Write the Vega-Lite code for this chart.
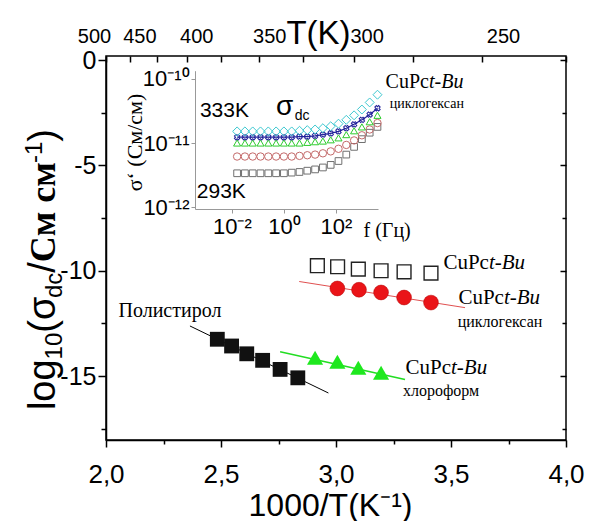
{
  "$schema": "https://vega.github.io/schema/vega-lite/v6.json",
  "width": 460,
  "height": 384,
  "autosize": {"type": "none"},
  "padding": {"left": 106, "top": 56, "right": 23, "bottom": 81},
  "background": "white",
  "config": {
    "view": {"stroke": "#000", "strokeWidth": 1.5},
    "axis": {"grid": false, "domainColor": "#000", "tickColor": "#000", "labelColor": "#000", "titleColor": "#000",
      "labelFont": "Liberation Sans", "titleFont": "Liberation Sans", "titleFontWeight": "normal",
      "domainWidth": 1.5, "tickWidth": 1.5, "labelFlush": false, "labelOverlap": false}
  },
  "datasets": {
    "open": [{"x": 2.919, "y": -9.76}, {"x": 3.007, "y": -9.81}, {"x": 3.097, "y": -9.92}, {"x": 3.196, "y": -10.0}, {"x": 3.296, "y": -10.05}, {"x": 3.413, "y": -10.11}],
    "red": [{"x": 3.006, "y": -10.84}, {"x": 3.1, "y": -10.9}, {"x": 3.196, "y": -11.03}, {"x": 3.296, "y": -11.27}, {"x": 3.413, "y": -11.51}],
    "poly": [{"x": 2.484, "y": -13.25}, {"x": 2.546, "y": -13.57}, {"x": 2.612, "y": -13.94}, {"x": 2.681, "y": -14.25}, {"x": 2.757, "y": -14.68}, {"x": 2.834, "y": -15.08}],
    "green": [{"x": 2.909, "y": -14.13}, {"x": 3.006, "y": -14.32}, {"x": 3.097, "y": -14.6}, {"x": 3.196, "y": -14.84}],
    "redFit": [{"x": 2.84, "y": -10.51}, {"x": 3.561, "y": -11.75}],
    "polyFit": [{"x": 2.365, "y": -12.62}, {"x": 2.967, "y": -15.8}],
    "greenFit": [{"x": 2.757, "y": -13.84}, {"x": 3.3, "y": -15.16}],
    "labels": [
      {"k": "cu", "t": "CuPc", "x": 3.665, "y": -9.9},
      {"k": "cu", "t": "CuPc", "x": 3.73, "y": -11.57},
      {"k": "cu", "t": "CuPc", "x": 3.5, "y": -14.9},
      {"k": "solv", "t": "циклогексан", "x": 3.713, "y": -12.67},
      {"k": "solv", "t": "хлороформ", "x": 3.457, "y": -15.95},
      {"k": "poly", "t": "Полистирол", "x": 2.278, "y": -12.2}
    ],
    "ytitle": [
      {"k": "big", "t": "log", "x": 1.7783, "y": -16.611},
      {"k": "sub", "t": "10", "x": 1.8087, "y": -14.205},
      {"k": "big", "t": "(σ", "x": 1.7783, "y": -12.938},
      {"k": "sub", "t": "dc", "x": 1.8087, "y": -11.296},
      {"k": "big", "t": "/", "x": 1.7783, "y": -10.095},
      {"k": "serif", "t": "См см", "x": 1.7783, "y": -9.592},
      {"k": "sub", "t": "-1", "x": 1.7217, "y": -4.888},
      {"k": "big", "t": ")", "x": 1.7783, "y": -3.878}
    ],
    "inset": [
      {"T": "293K", "lf": -1.8, "ls": -11.47}, {"T": "293K", "lf": -1.5, "ls": -11.47}, {"T": "293K", "lf": -1.2, "ls": -11.47}, {"T": "293K", "lf": -0.9, "ls": -11.47}, {"T": "293K", "lf": -0.6, "ls": -11.47}, {"T": "293K", "lf": -0.3, "ls": -11.47}, {"T": "293K", "lf": 0, "ls": -11.47}, {"T": "293K", "lf": 0.3, "ls": -11.46}, {"T": "293K", "lf": 0.6, "ls": -11.45}, {"T": "293K", "lf": 0.9, "ls": -11.43}, {"T": "293K", "lf": 1.2, "ls": -11.41}, {"T": "293K", "lf": 1.5, "ls": -11.38}, {"T": "293K", "lf": 1.8, "ls": -11.34}, {"T": "293K", "lf": 2.1, "ls": -11.28}, {"T": "293K", "lf": 2.4, "ls": -11.18}, {"T": "293K", "lf": 2.7, "ls": -11.06}, {"T": "293K", "lf": 3.0, "ls": -10.94}, {"T": "293K", "lf": 3.3, "ls": -10.84}, {"T": "293K", "lf": 3.6, "ls": -10.75},
      {"T": "303K", "lf": -1.8, "ls": -11.21}, {"T": "303K", "lf": -1.5, "ls": -11.21}, {"T": "303K", "lf": -1.2, "ls": -11.21}, {"T": "303K", "lf": -0.9, "ls": -11.21}, {"T": "303K", "lf": -0.6, "ls": -11.21}, {"T": "303K", "lf": -0.3, "ls": -11.21}, {"T": "303K", "lf": 0, "ls": -11.21}, {"T": "303K", "lf": 0.3, "ls": -11.21}, {"T": "303K", "lf": 0.6, "ls": -11.2}, {"T": "303K", "lf": 0.9, "ls": -11.19}, {"T": "303K", "lf": 1.2, "ls": -11.18}, {"T": "303K", "lf": 1.5, "ls": -11.16}, {"T": "303K", "lf": 1.8, "ls": -11.13}, {"T": "303K", "lf": 2.1, "ls": -11.09}, {"T": "303K", "lf": 2.4, "ls": -11.03}, {"T": "303K", "lf": 2.7, "ls": -10.96}, {"T": "303K", "lf": 3.0, "ls": -10.88}, {"T": "303K", "lf": 3.3, "ls": -10.79}, {"T": "303K", "lf": 3.6, "ls": -10.69},
      {"T": "313K", "lf": -1.8, "ls": -11.0}, {"T": "313K", "lf": -1.5, "ls": -11.0}, {"T": "313K", "lf": -1.2, "ls": -11.0}, {"T": "313K", "lf": -0.9, "ls": -11.0}, {"T": "313K", "lf": -0.6, "ls": -11.0}, {"T": "313K", "lf": -0.3, "ls": -11.0}, {"T": "313K", "lf": 0, "ls": -11.0}, {"T": "313K", "lf": 0.3, "ls": -11.0}, {"T": "313K", "lf": 0.6, "ls": -11.0}, {"T": "313K", "lf": 0.9, "ls": -10.99}, {"T": "313K", "lf": 1.2, "ls": -10.98}, {"T": "313K", "lf": 1.5, "ls": -10.97}, {"T": "313K", "lf": 1.8, "ls": -10.95}, {"T": "313K", "lf": 2.1, "ls": -10.92}, {"T": "313K", "lf": 2.4, "ls": -10.87}, {"T": "313K", "lf": 2.7, "ls": -10.81}, {"T": "313K", "lf": 3.0, "ls": -10.75}, {"T": "313K", "lf": 3.3, "ls": -10.67}, {"T": "313K", "lf": 3.6, "ls": -10.57},
      {"T": "323K", "lf": -1.8, "ls": -10.91}, {"T": "323K", "lf": -1.5, "ls": -10.91}, {"T": "323K", "lf": -1.2, "ls": -10.91}, {"T": "323K", "lf": -0.9, "ls": -10.91}, {"T": "323K", "lf": -0.6, "ls": -10.91}, {"T": "323K", "lf": -0.3, "ls": -10.91}, {"T": "323K", "lf": 0, "ls": -10.91}, {"T": "323K", "lf": 0.3, "ls": -10.91}, {"T": "323K", "lf": 0.6, "ls": -10.9}, {"T": "323K", "lf": 0.9, "ls": -10.9}, {"T": "323K", "lf": 1.2, "ls": -10.89}, {"T": "323K", "lf": 1.5, "ls": -10.87}, {"T": "323K", "lf": 1.8, "ls": -10.85}, {"T": "323K", "lf": 2.1, "ls": -10.82}, {"T": "323K", "lf": 2.4, "ls": -10.77}, {"T": "323K", "lf": 2.7, "ls": -10.71}, {"T": "323K", "lf": 3.0, "ls": -10.64}, {"T": "323K", "lf": 3.3, "ls": -10.56}, {"T": "323K", "lf": 3.6, "ls": -10.46},
      {"T": "333K", "lf": -1.8, "ls": -10.82}, {"T": "333K", "lf": -1.5, "ls": -10.82}, {"T": "333K", "lf": -1.2, "ls": -10.82}, {"T": "333K", "lf": -0.9, "ls": -10.82}, {"T": "333K", "lf": -0.6, "ls": -10.82}, {"T": "333K", "lf": -0.3, "ls": -10.82}, {"T": "333K", "lf": 0, "ls": -10.82}, {"T": "333K", "lf": 0.3, "ls": -10.82}, {"T": "333K", "lf": 0.6, "ls": -10.81}, {"T": "333K", "lf": 0.9, "ls": -10.8}, {"T": "333K", "lf": 1.2, "ls": -10.79}, {"T": "333K", "lf": 1.5, "ls": -10.77}, {"T": "333K", "lf": 1.8, "ls": -10.74}, {"T": "333K", "lf": 2.1, "ls": -10.7}, {"T": "333K", "lf": 2.4, "ls": -10.64}, {"T": "333K", "lf": 2.7, "ls": -10.57}, {"T": "333K", "lf": 3.0, "ls": -10.48}, {"T": "333K", "lf": 3.3, "ls": -10.37}, {"T": "333K", "lf": 3.6, "ls": -10.25}
    ],
    "insetText": [
      {"k": "big", "t": "333K", "lf": -3.23, "ls": -10.59},
      {"k": "big", "t": "293K", "lf": -3.35, "ls": -11.85},
      {"k": "sig", "t": "σ", "lf": -0.3, "ls": -10.565},
      {"k": "dc", "t": "dc", "lf": 0.42, "ls": -10.64},
      {"k": "cu", "t": "CuPc", "lf": 5.58, "ls": -10.146},
      {"k": "solv", "t": "циклогексан", "lf": 5.5, "ls": -10.457}
    ]
  },
  "resolve": {"scale": {"x": "independent", "y": "independent"}},
  "layer": [
    {
      "encoding": {
        "x": {"field": "x", "type": "quantitative", "scale": {"domain": [2, 4], "nice": false, "zero": false},
          "axis": {"orient": "bottom", "values": [2, 2.25, 2.5, 2.75, 3, 3.25, 3.5, 3.75, 4],
            "labelExpr": "datum.value*2 % 1 == 0 ? replace(format(datum.value, '.1f'), '.', ',') : ''",
            "tickSize": {"condition": {"test": "datum.value*2 % 1 != 0", "value": 4}, "value": 7},
            "labelFontSize": 26, "labelPadding": 14,
            "title": "1000/T(K⁻¹)", "titleFontSize": 32, "titleX": 224, "titleY": 75, "titleAlign": "center", "titleBaseline": "alphabetic"}},
        "y": {"field": "y", "type": "quantitative", "scale": {"domain": [-18.03, 0.19], "nice": false, "zero": false},
          "axis": {"orient": "left", "values": [-17.5, -15, -12.5, -10, -7.5, -5, -2.5, 0],
            "labelExpr": "datum.value % 5 == 0 ? '' + datum.value : ''",
            "tickSize": {"condition": {"test": "datum.value % 5 != 0", "value": 5}, "value": 8},
            "labelFontSize": 25, "labelPadding": 2, "title": null}}
      },
      "layer": [
        {"data": {"name": "redFit"}, "mark": {"type": "line", "color": "#e05050", "strokeWidth": 1}},
        {"data": {"name": "polyFit"}, "mark": {"type": "line", "color": "#000000", "strokeWidth": 1}},
        {"data": {"name": "greenFit"}, "mark": {"type": "line", "color": "#22dd22", "strokeWidth": 1.5}},
        {"data": {"name": "open"}, "mark": {"type": "point", "shape": "square", "filled": false, "stroke": "#222", "strokeWidth": 1.4, "size": 190, "opacity": 1}},
        {"data": {"name": "red"}, "mark": {"type": "point", "shape": "circle", "filled": true, "fill": "#ea1418", "stroke": "#b00000", "strokeWidth": 0.5, "size": 220, "opacity": 1}},
        {"data": {"name": "poly"}, "mark": {"type": "point", "shape": "square", "filled": true, "fill": "#111", "size": 220, "opacity": 1}},
        {"data": {"name": "green"}, "mark": {"type": "point", "shape": "triangle-up", "filled": true, "fill": "#1ee81e", "size": 260, "opacity": 1}},
        {"data": {"name": "labels"}, "transform": [{"filter": "datum.k == 'cu'"}], "mark": {"type": "text", "align": "right", "baseline": "alphabetic", "font": "Liberation Serif", "fontSize": 21, "color": "#000"}, "encoding": {"text": {"field": "t"}}},
        {"data": {"name": "labels"}, "transform": [{"filter": "datum.k == 'cu'"}], "mark": {"type": "text", "align": "left", "baseline": "alphabetic", "font": "Liberation Serif", "fontSize": 21, "fontStyle": "italic", "color": "#000"}, "encoding": {"text": {"value": "t-Bu"}}},
        {"data": {"name": "labels"}, "transform": [{"filter": "datum.k == 'solv'"}], "mark": {"type": "text", "align": "center", "baseline": "alphabetic", "font": "Liberation Serif", "fontSize": 16, "color": "#000"}, "encoding": {"text": {"field": "t"}}},
        {"data": {"name": "labels"}, "transform": [{"filter": "datum.k == 'poly'"}], "mark": {"type": "text", "align": "center", "baseline": "alphabetic", "font": "Liberation Serif", "fontSize": 20, "color": "#000"}, "encoding": {"text": {"field": "t"}}},
        {"data": {"name": "ytitle"}, "transform": [{"filter": "datum.k == 'big'"}], "mark": {"type": "text", "angle": 270, "align": "left", "baseline": "alphabetic", "font": "Liberation Sans", "fontSize": 38, "color": "#000"}, "encoding": {"text": {"field": "t"}}},
        {"data": {"name": "ytitle"}, "transform": [{"filter": "datum.k == 'sub'"}], "mark": {"type": "text", "angle": 270, "align": "left", "baseline": "alphabetic", "font": "Liberation Sans", "fontSize": 24, "color": "#000"}, "encoding": {"text": {"field": "t"}}},
        {"data": {"name": "ytitle"}, "transform": [{"filter": "datum.k == 'serif'"}], "mark": {"type": "text", "angle": 270, "align": "left", "baseline": "alphabetic", "font": "Liberation Serif", "fontWeight": "bold", "fontSize": 36, "color": "#000"}, "encoding": {"text": {"field": "t"}}}
      ]
    },
    {
      "data": {"values": [{"a": 3, "b": -5}]},
      "mark": {"type": "point", "opacity": 0},
      "encoding": {
        "x": {"field": "a", "type": "quantitative", "scale": {"domain": [2, 4], "nice": false, "zero": false},
          "axis": {"orient": "top", "values": [2, 2.105263, 2.222222, 2.352941, 2.5, 2.666667, 2.857143, 3.076923, 3.333333, 3.636364, 4],
            "labels": false, "domain": false, "tickSize": -6, "title": null}},
        "y": {"field": "b", "type": "quantitative", "scale": {"domain": [-18.03, 0.19], "nice": false, "zero": false},
          "axis": {"orient": "right", "values": [-17.5, -15, -12.5, -10, -7.5, -5, -2.5, 0],
            "labels": false, "domain": false,
            "tickSize": {"condition": {"test": "datum.value % 5 != 0", "value": -4}, "value": -6}, "title": null}}
      }
    },
    {
      "data": {"values": [{"a": 3}]},
      "mark": {"type": "point", "opacity": 0},
      "encoding": {
        "x": {"field": "a", "type": "quantitative", "scale": {"domain": [1.9, 4.308], "range": [-32.46, 460], "nice": false, "zero": false},
          "axis": {"orient": "top", "values": [2, 2.222222, 2.5, 2.857143, 3.333333, 4],
            "labelExpr": "'' + round(1000/datum.value)", "ticks": false, "tickSize": 0, "domain": false,
            "labelFontSize": 20, "labelPadding": 14, "labelBaseline": "alphabetic",
            "title": "T(K)", "titleFontSize": 33, "titleX": 212, "titleY": -13, "titleAlign": "center", "titleBaseline": "alphabetic"}}
      }
    },
    {
      "encoding": {
        "x": {"field": "lf", "type": "quantitative", "scale": {"domain": [-3.42, 3.62], "range": [89, 272], "nice": false, "zero": false},
          "axis": {"orient": "bottom", "offset": -231, "values": [-2, 0, 2],
            "labelExpr": "datum.value == -2 ? '10⁻²' : datum.value == 0 ? '10⁰' : '10²'",
            "labelFontSize": 22, "tickSize": 4, "labelPadding": 3, "domainColor": "#999", "tickColor": "#999", "domainWidth": 1, "tickWidth": 1,
            "title": "f (Гц)", "titleFont": "Liberation Serif", "titleFontSize": 20, "titleX": 257, "titleY": 27, "titleAlign": "left", "titleBaseline": "alphabetic"}},
        "y": {"field": "ls", "type": "quantitative", "scale": {"domain": [-12.025, -9.877], "range": [153, 14.7], "nice": false, "zero": false},
          "axis": {"orient": "left", "offset": -89, "values": [-12, -11, -10],
            "labelExpr": "datum.value == -10 ? '10⁻¹⁰' : datum.value == -11 ? '10⁻¹¹' : '10⁻¹²'",
            "labelFontSize": 22, "tickSize": 4, "labelPadding": 2, "domainColor": "#999", "tickColor": "#999", "domainWidth": 1, "tickWidth": 1,
            "title": "σ‘ (См/см)", "titleFont": "Liberation Serif", "titleFontSize": 22, "titleAngle": 270, "titleX": -61, "titleY": 86, "titleAlign": "center", "titleBaseline": "middle"}}
      },
      "layer": [
        {"data": {"values": [{}]}, "mark": {"type": "rect", "filled": false, "stroke": "#aaa", "strokeWidth": 1},
          "encoding": {"x": {"datum": -3.42, "type": "quantitative"}, "x2": {"datum": 3.62}, "y": {"datum": -12.025, "type": "quantitative"}, "y2": {"datum": -9.877}}},
        {"data": {"name": "inset"}, "transform": [{"filter": "datum.T == '293K'"}], "mark": {"type": "point", "shape": "square", "filled": false, "stroke": "#707070", "strokeWidth": 1, "size": 45, "opacity": 1}},
        {"data": {"name": "inset"}, "transform": [{"filter": "datum.T == '303K'"}], "mark": {"type": "point", "shape": "circle", "filled": false, "stroke": "#c46a6a", "strokeWidth": 1, "size": 55, "opacity": 1}},
        {"data": {"name": "inset"}, "transform": [{"filter": "datum.T == '313K'"}], "mark": {"type": "point", "shape": "triangle-up", "filled": false, "stroke": "#2ecc2e", "strokeWidth": 1, "size": 50, "opacity": 1}},
        {"data": {"name": "inset"}, "transform": [{"filter": "datum.T == '323K'"}], "mark": {"type": "line", "color": "#22229a", "strokeWidth": 1.2}},
        {"data": {"name": "inset"}, "transform": [{"filter": "datum.T == '323K'"}], "mark": {"type": "point", "shape": "cross", "angle": 45, "filled": false, "stroke": "#22229a", "strokeWidth": 1, "size": 30, "opacity": 1}},
        {"data": {"name": "inset"}, "transform": [{"filter": "datum.T == '333K'"}], "mark": {"type": "point", "shape": "diamond", "filled": false, "stroke": "#3cc8d0", "strokeWidth": 1, "size": 80, "opacity": 1}},
        {"data": {"name": "insetText"}, "transform": [{"filter": "datum.k == 'big'"}], "mark": {"type": "text", "align": "left", "baseline": "alphabetic", "font": "Liberation Sans", "fontSize": 21, "color": "#000"}, "encoding": {"text": {"field": "t"}}},
        {"data": {"name": "insetText"}, "transform": [{"filter": "datum.k == 'sig'"}], "mark": {"type": "text", "align": "left", "baseline": "alphabetic", "font": "Liberation Sans", "fontSize": 28, "color": "#000"}, "encoding": {"text": {"field": "t"}}},
        {"data": {"name": "insetText"}, "transform": [{"filter": "datum.k == 'dc'"}], "mark": {"type": "text", "align": "left", "baseline": "alphabetic", "font": "Liberation Sans", "fontSize": 14, "color": "#000"}, "encoding": {"text": {"field": "t"}}},
        {"data": {"name": "insetText"}, "transform": [{"filter": "datum.k == 'cu'"}], "mark": {"type": "text", "align": "right", "baseline": "alphabetic", "font": "Liberation Serif", "fontSize": 20, "color": "#000"}, "encoding": {"text": {"field": "t"}}},
        {"data": {"name": "insetText"}, "transform": [{"filter": "datum.k == 'cu'"}], "mark": {"type": "text", "align": "left", "baseline": "alphabetic", "font": "Liberation Serif", "fontSize": 20, "fontStyle": "italic", "color": "#000"}, "encoding": {"text": {"value": "t-Bu"}}},
        {"data": {"name": "insetText"}, "transform": [{"filter": "datum.k == 'solv'"}], "mark": {"type": "text", "align": "center", "baseline": "alphabetic", "font": "Liberation Serif", "fontSize": 14, "color": "#000"}, "encoding": {"text": {"field": "t"}}}
      ]
    }
  ]
}
